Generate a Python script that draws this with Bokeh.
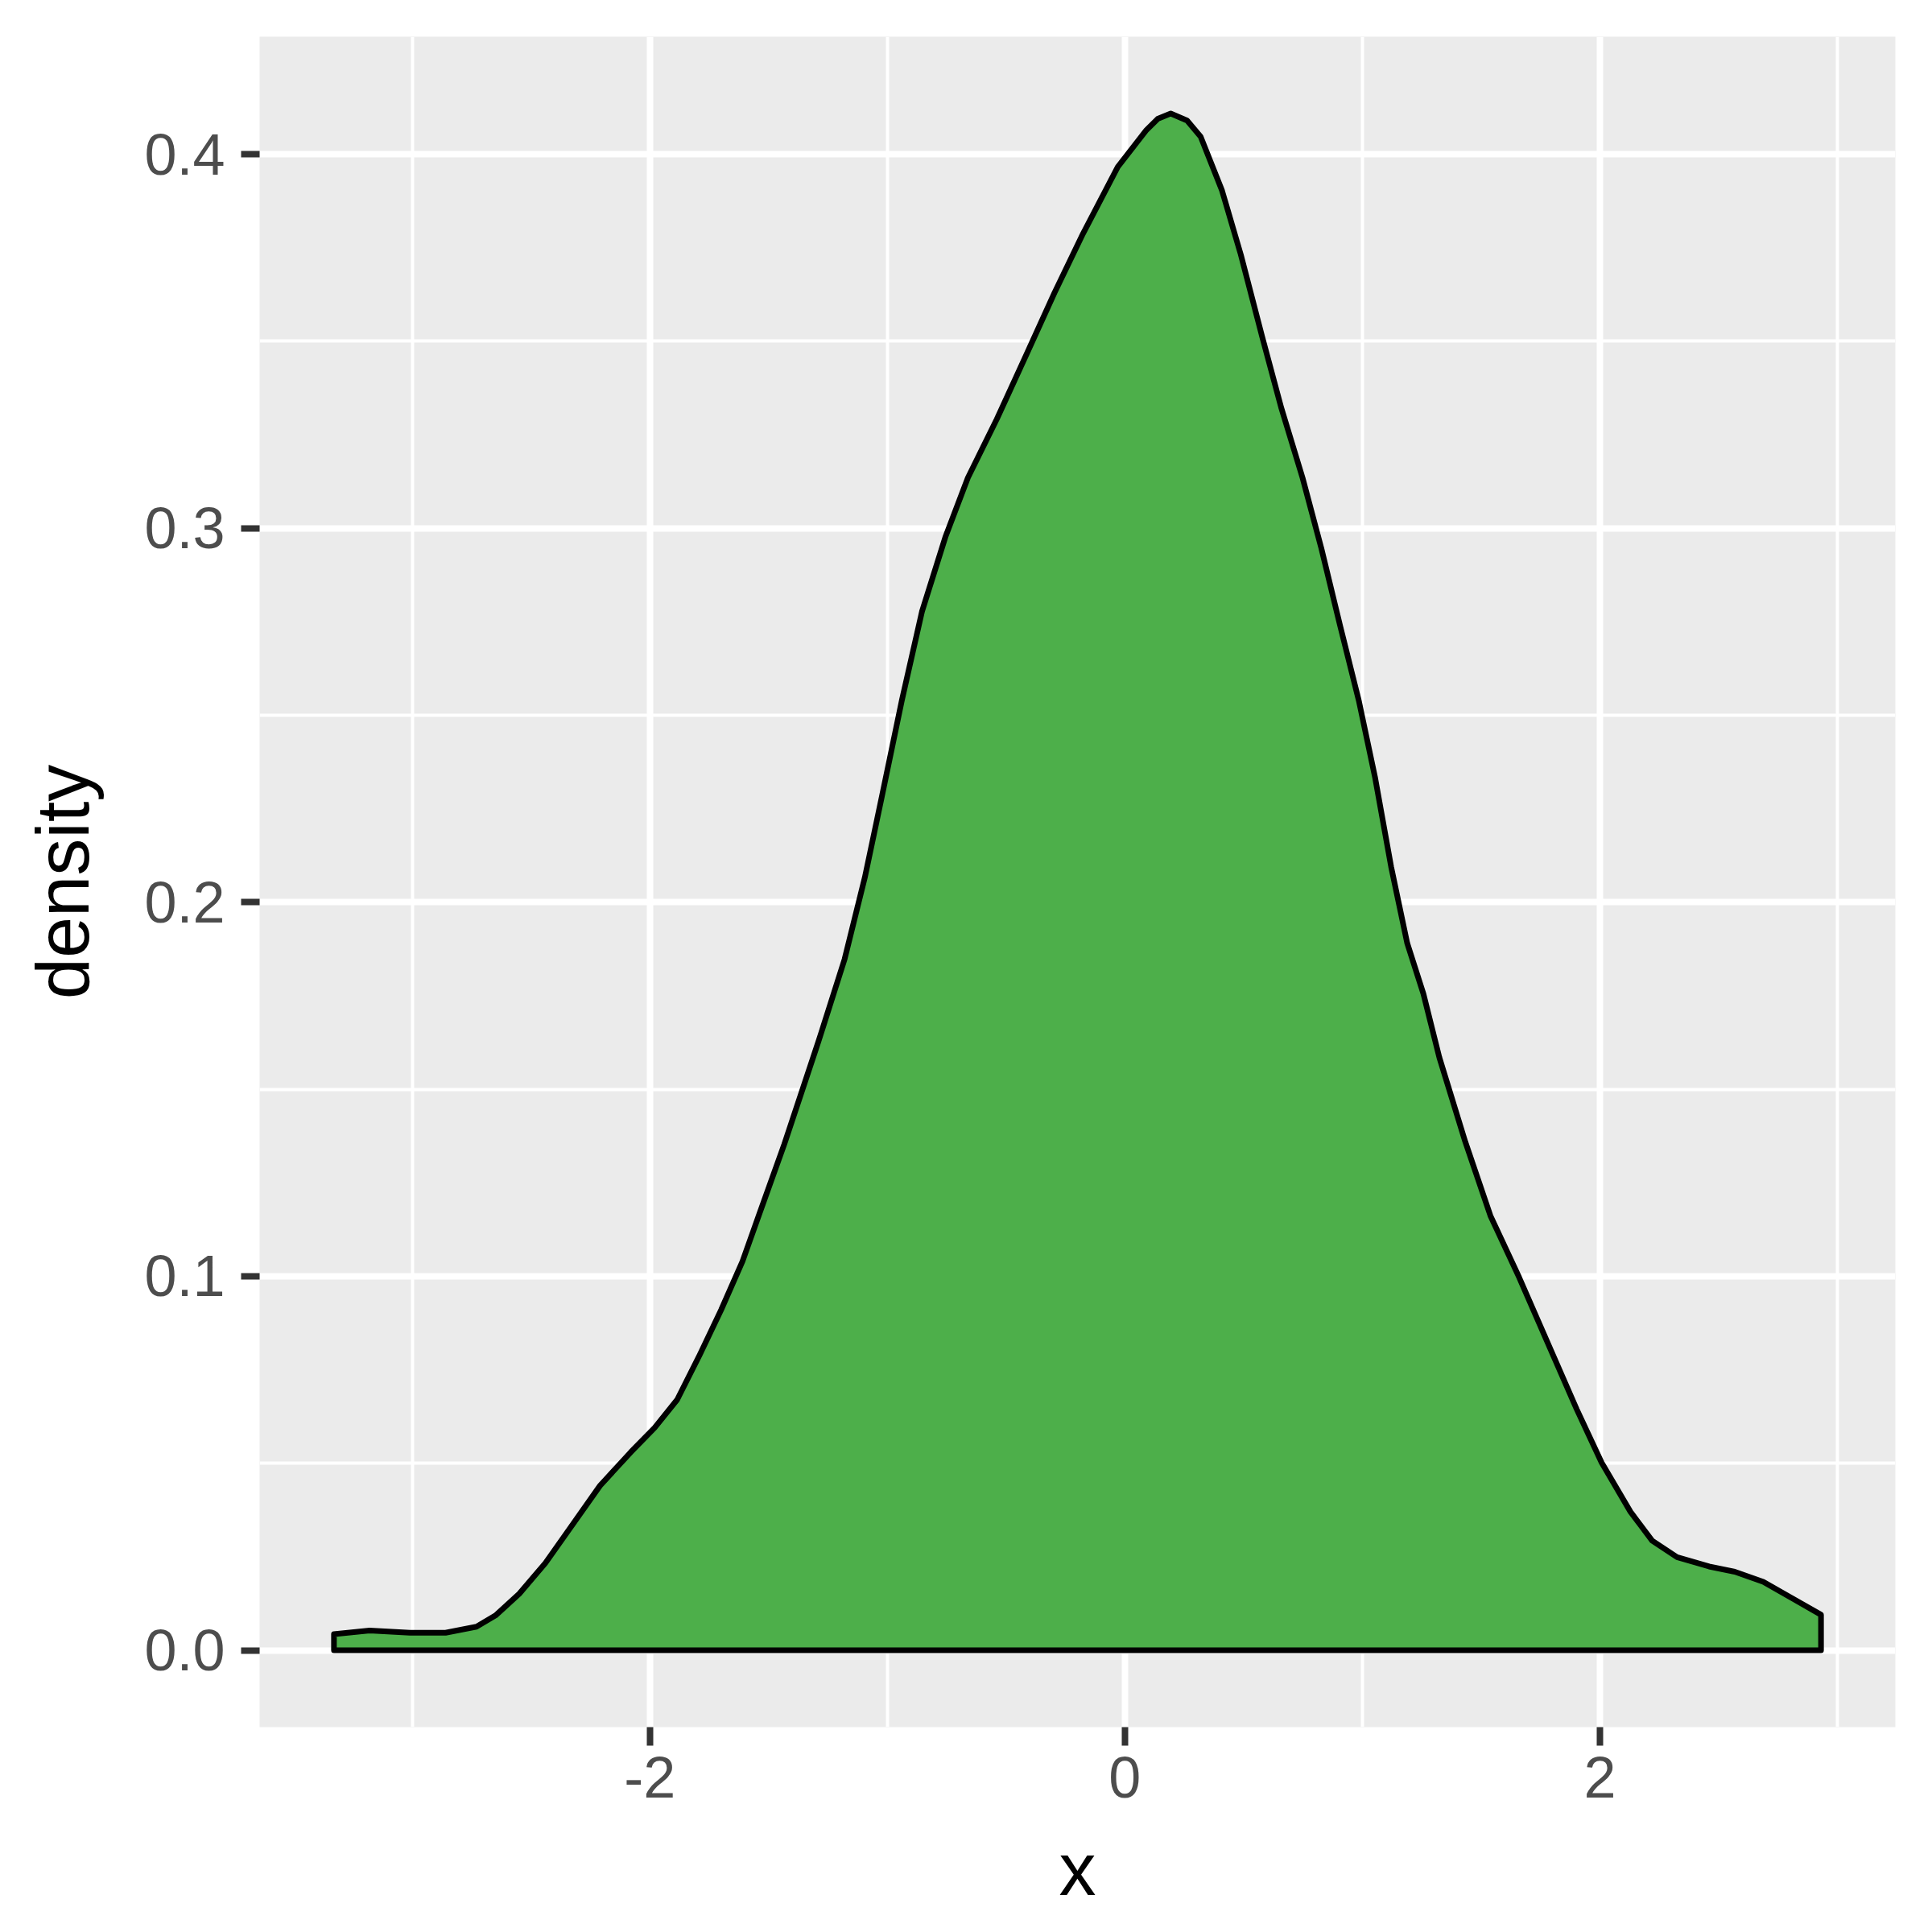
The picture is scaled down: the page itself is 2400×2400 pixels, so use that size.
from bokeh.plotting import figure
from bokeh.models import FixedTicker, Range1d
from bokeh.embed import file_html
from bokeh.resources import INLINE

# Density estimate
x_vals = [-3.33, -3.18, -3.01, -2.86, -2.73, -2.65, -2.55, -2.44, -2.34, -2.21,
          -2.08, -1.98, -1.885, -1.79, -1.70, -1.61, -1.54, -1.434, -1.289, -1.18,
          -1.095, -1.023, -0.939, -0.854, -0.756, -0.661, -0.539, -0.417, -0.296, -0.176,
          -0.03, 0.091, 0.139, 0.193, 0.262, 0.319, 0.409, 0.488, 0.579, 0.658, 0.748, 0.827,
          0.906, 0.985, 1.053, 1.121, 1.189, 1.257, 1.324, 1.433, 1.539, 1.66,
          1.781, 1.902, 2.007, 2.129, 2.22, 2.325, 2.46, 2.568, 2.688, 2.81, 2.931]
density = [0.0043, 0.0053, 0.0047, 0.0047, 0.0063, 0.0093, 0.0151, 0.0233, 0.0323, 0.044,
           0.053, 0.0595, 0.067, 0.079, 0.091, 0.104, 0.1165, 0.1353, 0.163, 0.1848,
           0.2066, 0.2283, 0.254, 0.2778, 0.2976, 0.3135, 0.3292, 0.3461, 0.363, 0.3788,
           0.3966, 0.4065, 0.4095, 0.4109, 0.4090, 0.4047, 0.3903, 0.3732, 0.351, 0.3323, 0.3135, 0.2947,
           0.274, 0.2539, 0.2335, 0.2095, 0.189, 0.1755, 0.1585, 0.136, 0.1162, 0.0997,
           0.0821, 0.0645, 0.0502, 0.037, 0.0293, 0.0249, 0.0224, 0.021, 0.0183, 0.0139, 0.0095]

x_major = [-2, 0, 2]
x_minor = [-3, -1, 1, 3]
x_labels = ["-2", "0", "2"]
y_major = [0.0, 0.1, 0.2, 0.3, 0.4]
y_minor = [0.05, 0.15, 0.25, 0.35]
y_labels = ["0.0", "0.1", "0.2", "0.3", "0.4"]

FONT = "Liberation Sans"

# ggplot-style 5% expansion
xr = max(x_vals) - min(x_vals)
yr = max(density) - 0.0
p = figure(frame_width=2032, frame_height=2100,
           min_border_left=322, min_border_right=38, min_border_top=45, min_border_bottom=247,
           x_range=Range1d(min(x_vals) - 0.05 * xr, max(x_vals) + 0.05 * xr),
           y_range=Range1d(0.0 - 0.05 * yr, max(density) + 0.05 * yr),
           output_backend="svg", toolbar_location=None,
           x_axis_label="x", y_axis_label="density")

p.background_fill_color = "#EBEBEB"
p.border_fill_color = "white"
p.outline_line_color = None

xs = [x_vals[0]] + x_vals + [x_vals[-1]]
ys = [0.0] + density + [0.0]
p.patch(xs, ys, fill_color="#4DAF4A", line_color="black", line_width=7, line_join="round")

p.xaxis.ticker = FixedTicker(ticks=x_major, minor_ticks=x_minor)
p.yaxis.ticker = FixedTicker(ticks=y_major, minor_ticks=y_minor)
p.xaxis.major_label_overrides = {v: s for v, s in zip(x_major, x_labels)}
p.yaxis.major_label_overrides = {v: s for v, s in zip(y_major, y_labels)}

for g in (p.xgrid, p.ygrid):
    g.grid_line_color = "white"
    g.grid_line_width = 8
    g.minor_grid_line_color = "white"
    g.minor_grid_line_width = 4

for ax in (p.xaxis, p.yaxis):
    ax.axis_line_color = None
    ax.major_tick_line_color = "#333333"
    ax.major_tick_line_width = 8
    ax.major_tick_out = 23
    ax.major_tick_in = 0
    ax.minor_tick_line_color = None
    ax.minor_tick_out = 0
    ax.minor_tick_in = 0
    ax.major_label_text_font = FONT
    ax.major_label_text_font_size = "72px"
    ax.major_label_text_color = "#4D4D4D"
    ax.axis_label_text_font = FONT
    ax.axis_label_text_font_size = "92px"
    ax.axis_label_text_font_style = "normal"
    ax.axis_label_text_color = "black"

p.xaxis.major_label_standoff = 14
p.yaxis.major_label_standoff = 20
p.xaxis.axis_label_standoff = 35
p.yaxis.axis_label_standoff = 47

open("out.html", "w").write(file_html(p, INLINE))
